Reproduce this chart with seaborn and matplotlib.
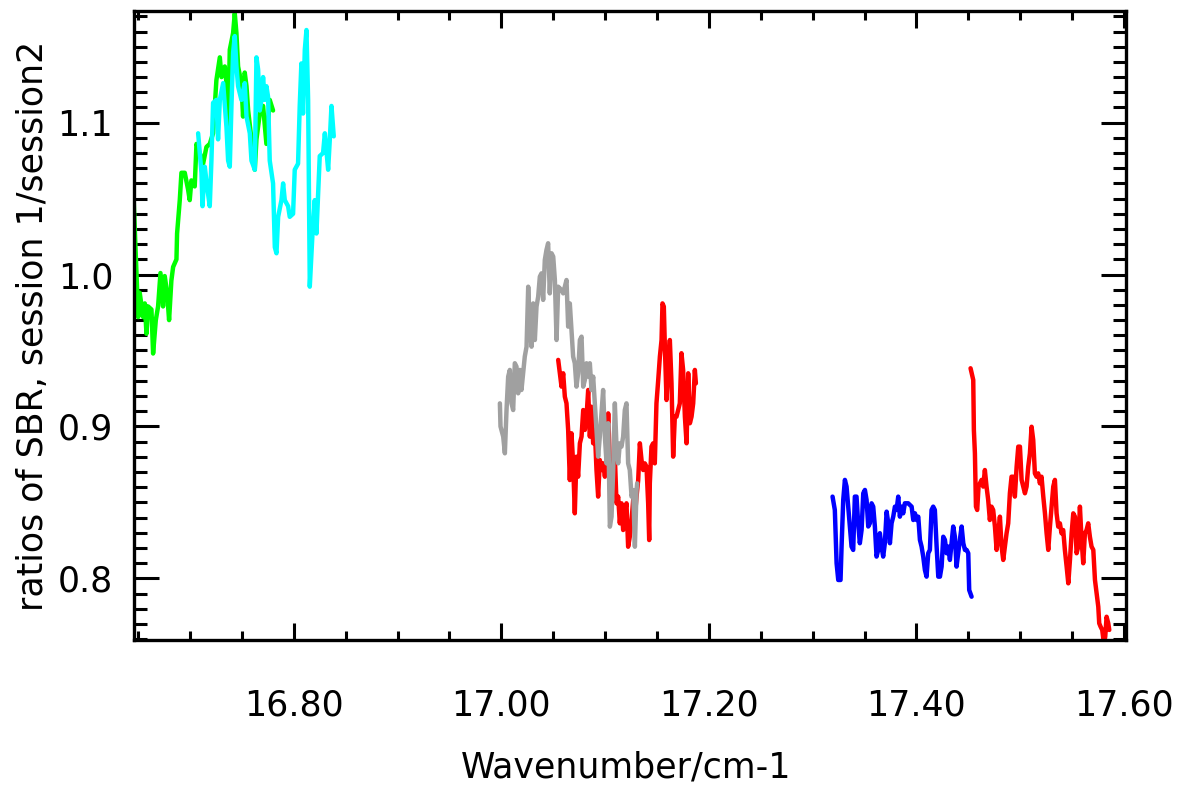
import matplotlib
matplotlib.use("Agg")
import numpy as np
import pandas as pd
import matplotlib.pyplot as plt
from matplotlib.ticker import MultipleLocator, FormatStrFormatter
import seaborn as sns

# ----------------------------------------
# Data
# ----------------------------------------
wn_green = [16.6458, 16.650, 16.6515, 16.6548, 16.6564, 16.658, 16.6596, 16.6628, 16.6644, 16.667,
            16.6692, 16.6715, 16.674, 16.6756, 16.6779, 16.6798, 16.682, 16.6837, 16.6869, 16.6875,
            16.6901, 16.6917, 16.6949, 16.6981, 16.6997, 16.7013, 16.7045, 16.7062, 16.7094, 16.7126,
            16.7158, 16.719, 16.7222, 16.7254, 16.7287, 16.7303, 16.7335, 16.7351, 16.7367, 16.7383,
            16.7415, 16.7431, 16.7447, 16.7463, 16.7495, 16.7511, 16.7527, 16.7544, 16.756, 16.7592,
            16.7624, 16.764, 16.7672, 16.7704, 16.7736, 16.7768, 16.78]
ratio_green = [1.047, 0.972, 0.988, 0.972, 0.981, 0.961, 0.979, 0.977, 0.948, 0.970,
               0.979, 1.001, 0.979, 0.999, 0.988, 0.970, 0.996, 1.005, 1.010, 1.027,
               1.049, 1.067, 1.067, 1.056, 1.049, 1.062, 1.058, 1.086, 1.080, 1.073,
               1.084, 1.086, 1.093, 1.128, 1.143, 1.130, 1.137, 1.126, 1.097, 1.148,
               1.159, 1.172, 1.159, 1.137, 1.126, 1.104, 1.133, 1.124, 1.108, 1.089,
               1.069, 1.089, 1.106, 1.111, 1.086, 1.115, 1.108]

wn_cyan = [16.7078, 16.711, 16.712, 16.7142, 16.7164, 16.719, 16.7206, 16.7222, 16.7254, 16.727,
           16.7287, 16.7319, 16.7351, 16.7367, 16.7383, 16.7399, 16.7415, 16.7431, 16.7447, 16.7463,
           16.7495, 16.7527, 16.7544, 16.7576, 16.7592, 16.7624, 16.764, 16.7656, 16.7672, 16.7688,
           16.7704, 16.772, 16.7736, 16.7752, 16.7768, 16.78, 16.7817, 16.7833, 16.7849, 16.7881,
           16.7897, 16.7913, 16.7945, 16.7961, 16.7993, 16.8009, 16.8041, 16.8057, 16.8073, 16.8089,
           16.8106, 16.8122, 16.8138, 16.8154, 16.818, 16.8202, 16.8218, 16.825, 16.8282, 16.8299,
           16.8331, 16.8347, 16.8363, 16.8385]
ratio_cyan = [1.093, 1.067, 1.045, 1.071, 1.058, 1.045, 1.075, 1.113, 1.115, 1.089,
              1.115, 1.126, 1.097, 1.075, 1.071, 1.111, 1.146, 1.157, 1.137, 1.124,
              1.115, 1.126, 1.104, 1.093, 1.075, 1.069, 1.143, 1.135, 1.108, 1.115,
              1.130, 1.115, 1.124, 1.117, 1.075, 1.060, 1.018, 1.014, 1.038, 1.049,
              1.060, 1.049, 1.045, 1.038, 1.040, 1.069, 1.073, 1.111, 1.139, 1.106,
              1.148, 1.161, 1.115, 0.992, 1.027, 1.049, 1.027, 1.078, 1.080, 1.093,
              1.069, 1.089, 1.111, 1.091]

wn_gray = [16.9986, 16.9992, 17.0018, 17.0034, 17.005, 17.0066, 17.0082, 17.0098, 17.0114, 17.013,
           17.0146, 17.0162, 17.0178, 17.0194, 17.021, 17.0226, 17.0243, 17.0259, 17.0275, 17.0291,
           17.0307, 17.0323, 17.0339, 17.0355, 17.0371, 17.0387, 17.0403, 17.0419, 17.0435, 17.0451,
           17.0467, 17.0484, 17.05, 17.0516, 17.0532, 17.0548, 17.058, 17.0596, 17.0628, 17.0644,
           17.066, 17.0676, 17.0692, 17.0708, 17.0724, 17.074, 17.0757, 17.0773, 17.0789, 17.0805,
           17.0821, 17.0837, 17.0853, 17.0869, 17.0885, 17.0901, 17.0917, 17.0933, 17.0949, 17.0965,
           17.0981, 17.0998, 17.1014, 17.103, 17.1046, 17.1062, 17.1078, 17.1094, 17.111, 17.1126,
           17.1142, 17.1158, 17.1174, 17.119, 17.1206, 17.1222, 17.1238, 17.1255, 17.1271, 17.1287,
           17.1303, 17.1309]
ratio_gray = [0.9152, 0.9000, 0.8933, 0.8823, 0.9108, 0.9328, 0.9372, 0.9152, 0.9108, 0.9416,
              0.9394, 0.9218, 0.9372, 0.9240, 0.9350, 0.9460, 0.9525, 0.9920, 0.9657, 0.9525,
              0.9810, 0.9569, 0.9789, 0.9854, 0.9986, 1.0008, 0.9833, 1.0096, 1.0162, 1.0206,
              0.9876, 1.0140, 1.0118, 0.9964, 0.9569, 0.9920, 0.9898, 0.9876, 0.9964, 0.9657,
              0.9810, 0.9635, 0.9460, 0.9416, 0.9262, 0.9350, 0.9569, 0.9591, 0.9262, 0.9306,
              0.9416, 0.9328, 0.9416, 0.9240, 0.9328, 0.9152, 0.8977, 0.8801, 0.8933, 0.9086,
              0.9240, 0.8933, 0.8757, 0.9021, 0.8340, 0.8406, 0.8713, 0.9152, 0.8867, 0.8757,
              0.8889, 0.8867, 0.8933, 0.9108, 0.9152, 0.8757, 0.8713, 0.8538, 0.8581, 0.8208,
              0.8581, 0.8625]

wn_red1 = [17.0548, 17.0564, 17.058, 17.0596, 17.0612, 17.0628, 17.0644, 17.066, 17.0676, 17.0692,
           17.0708, 17.0724, 17.074, 17.0757, 17.0773, 17.0789, 17.0805, 17.0821, 17.0837, 17.0853,
           17.0869, 17.0885, 17.0901, 17.0917, 17.0933, 17.0949, 17.0965, 17.0981, 17.0998, 17.1014,
           17.103, 17.1046, 17.1062, 17.1078, 17.1094, 17.111, 17.1126, 17.1142, 17.1158, 17.1174,
           17.119, 17.1206, 17.1222, 17.1238, 17.1255, 17.1271, 17.1287, 17.1303, 17.1319, 17.1335,
           17.1351, 17.1367, 17.1383, 17.1399, 17.1415, 17.1425, 17.1431, 17.1447, 17.1463, 17.1479,
           17.1495, 17.1512, 17.1528, 17.1544, 17.1553, 17.1566, 17.1576, 17.1592, 17.1608, 17.1624,
           17.164, 17.1656, 17.1672, 17.1688, 17.1704, 17.172, 17.1736, 17.1752, 17.1769, 17.1785,
           17.1801, 17.1817, 17.1833, 17.1849, 17.1865, 17.1875]
ratio_red1 = [0.9438, 0.9350, 0.9262, 0.9350, 0.9196, 0.9152, 0.8977, 0.8647, 0.8955, 0.8757,
              0.8428, 0.8801, 0.8669, 0.8889, 0.8933, 0.9108, 0.8977, 0.9064, 0.9240, 0.8933,
              0.9130, 0.8889, 0.8977, 0.8713, 0.8538, 0.8779, 0.8713, 0.8757, 0.8669, 0.8779,
              0.9086, 0.8757, 0.8581, 0.8757, 0.8801, 0.8494, 0.8538, 0.8362, 0.8494, 0.8318,
              0.8428, 0.8494, 0.8208, 0.8274, 0.8384, 0.8516, 0.8406, 0.8538, 0.8647, 0.8889,
              0.8779, 0.8713, 0.8757, 0.8735, 0.8494, 0.8252, 0.8625, 0.8867, 0.8889, 0.8757,
              0.9152, 0.9306, 0.9460, 0.9569, 0.9810, 0.9789, 0.9525, 0.9174, 0.9416, 0.9569,
              0.9284, 0.8801, 0.9064, 0.9064, 0.9108, 0.9152, 0.9482, 0.9372, 0.9064, 0.8889,
              0.9350, 0.9021, 0.9064, 0.9152, 0.9372, 0.9284]

wn_blue = [17.3192, 17.3214, 17.3231, 17.3247, 17.3269, 17.3279, 17.3295, 17.3311, 17.3327, 17.3343,
           17.3359, 17.3375, 17.3391, 17.3407, 17.3423, 17.3439, 17.3455, 17.3472, 17.3488, 17.3504,
           17.352, 17.3536, 17.3552, 17.3568, 17.3584, 17.36, 17.3616, 17.3632, 17.3648, 17.3664,
           17.368, 17.3696, 17.3713, 17.3729, 17.3745, 17.3761, 17.3777, 17.3793, 17.3809, 17.3825,
           17.3841, 17.3857, 17.3873, 17.3889, 17.3921, 17.3954, 17.397, 17.3986, 17.4002, 17.4018,
           17.4034, 17.405, 17.4066, 17.4082, 17.4098, 17.4114, 17.413, 17.4146, 17.4162, 17.4178,
           17.4195, 17.4211, 17.4227, 17.4243, 17.4259, 17.4275, 17.4291, 17.4307, 17.4323, 17.4339,
           17.4355, 17.4371, 17.4387, 17.4403, 17.4419, 17.4436, 17.4452, 17.4468, 17.4484, 17.45,
           17.4509, 17.4532]
ratio_blue = [0.8538, 0.8450, 0.8099, 0.7989, 0.7989, 0.8209, 0.8516, 0.8648, 0.8604, 0.8472,
              0.8341, 0.8209, 0.8187, 0.8538, 0.8538, 0.8363, 0.8231, 0.8319, 0.8560, 0.8582,
              0.8516, 0.8341, 0.8363, 0.8494, 0.8472, 0.8341, 0.8143, 0.8187, 0.8297, 0.8209,
              0.8143, 0.8231, 0.8439, 0.8363, 0.8231, 0.8363, 0.8406, 0.8472, 0.8450, 0.8538,
              0.8406, 0.8472, 0.8428, 0.8494, 0.8494, 0.8472, 0.8384, 0.8428, 0.8384, 0.8406,
              0.8253, 0.8209, 0.8143, 0.8055, 0.8011, 0.8165, 0.8187, 0.8450, 0.8472, 0.8450,
              0.8209, 0.8011, 0.8011, 0.8077, 0.8274, 0.8253, 0.8165, 0.8209, 0.8121, 0.8231,
              0.8341, 0.8274, 0.8077, 0.8165, 0.8253, 0.8341, 0.8231, 0.8187, 0.8187, 0.8165,
              0.7923, 0.7879]

wn_red2 = [17.4522, 17.4548, 17.4554, 17.4564, 17.4574, 17.4586, 17.4599, 17.4612, 17.4628, 17.4644,
           17.466, 17.4676, 17.4692, 17.4708, 17.4724, 17.474, 17.4757, 17.4773, 17.4789, 17.4805,
           17.4821, 17.4837, 17.4853, 17.4869, 17.4885, 17.4901, 17.4917, 17.4933, 17.4949, 17.4966,
           17.4982, 17.4998, 17.5014, 17.503, 17.5046, 17.5062, 17.5078, 17.5094, 17.511, 17.5126,
           17.5142, 17.5158, 17.5174, 17.519, 17.5206, 17.5223, 17.5239, 17.5255, 17.5271, 17.5287,
           17.5303, 17.5319, 17.5335, 17.5351, 17.5367, 17.5383, 17.5399, 17.5415, 17.5431, 17.5448,
           17.5464, 17.548, 17.5496, 17.5512, 17.5528, 17.5544, 17.556, 17.5576, 17.5592, 17.5608,
           17.5624, 17.564, 17.5656, 17.5672, 17.5688, 17.5705, 17.5721, 17.5737, 17.5753, 17.5762,
           17.5775, 17.5791, 17.5807, 17.582, 17.5833, 17.5849, 17.5859]
ratio_red2 = [0.9383, 0.9306, 0.8977, 0.8823, 0.8472, 0.8450, 0.8604, 0.8625, 0.8648, 0.8604,
              0.8713, 0.8604, 0.8516, 0.8384, 0.8472, 0.8450, 0.8340, 0.8187, 0.8296, 0.8406,
              0.8209, 0.8121, 0.8209, 0.8296, 0.8362, 0.8560, 0.8669, 0.8669, 0.8538, 0.8735,
              0.8867, 0.8867, 0.8648, 0.8604, 0.8560, 0.8604, 0.8735, 0.8823, 0.8998, 0.8911,
              0.8691, 0.8669, 0.8691, 0.8625, 0.8669, 0.8538, 0.8428, 0.8296, 0.8187, 0.8340,
              0.8472, 0.8604, 0.8648, 0.8428, 0.8340, 0.8362, 0.8296, 0.8318, 0.8187, 0.8077,
              0.7967, 0.8121, 0.8296, 0.8428, 0.8406, 0.8165, 0.8209, 0.8472, 0.8253, 0.8099,
              0.8296, 0.8318, 0.8362, 0.8274, 0.8209, 0.8187, 0.7989, 0.7901, 0.7813, 0.7704,
              0.7682, 0.7660, 0.7572, 0.7616, 0.7747, 0.7704, 0.7660]

# drawing order matters (later ones on top)
series = [
    (wn_green, ratio_green, "#00ff00"),
    (wn_cyan, ratio_cyan, "#00ffff"),
    (wn_red1, ratio_red1, "#ff0000"),
    (wn_gray, ratio_gray, "#a0a0a0"),
    (wn_blue, ratio_blue, "#0000ff"),
    (wn_red2, ratio_red2, "#ff0000"),
]

# ----------------------------------------
# Plot
# ----------------------------------------
sns.set_style("ticks")
plt.rcParams['font.family'] = ['DejaVu Sans']
plt.rcParams['text.color'] = 'black'
plt.rcParams['axes.labelcolor'] = 'black'
plt.rcParams['xtick.color'] = 'black'
plt.rcParams['ytick.color'] = 'black'

fig = plt.figure(figsize=(11.87, 7.87), dpi=100)
ax = fig.add_axes([0.1129, 0.1868, 0.8357, 0.7992])

for wn, ratio, col in series:
    df = pd.DataFrame({'wn': wn, 'ratio': ratio})
    sns.lineplot(data=df, x='wn', y='ratio', color=col, sort=False,
                 estimator=None, linewidth=3.2, ax=ax)

ax.set_xlim(16.646, 17.602)
ax.set_ylim(0.7594, 1.1735)

ax.xaxis.set_major_locator(MultipleLocator(0.2))
ax.xaxis.set_minor_locator(MultipleLocator(0.05))
ax.xaxis.set_major_formatter(FormatStrFormatter('%.2f'))
ax.yaxis.set_major_locator(MultipleLocator(0.1))
ax.yaxis.set_minor_locator(MultipleLocator(0.01))
ax.yaxis.set_major_formatter(FormatStrFormatter('%.1f'))

ax.tick_params(which='both', direction='in', top=True, right=True,
               width=2.2, color='black', labelcolor='black', labelsize=25)
ax.tick_params(axis='x', which='major', length=12, pad=35)
ax.tick_params(axis='x', which='minor', length=6.5)
ax.tick_params(axis='y', which='major', length=18, pad=15)
ax.tick_params(axis='y', which='minor', length=9.5)

for s in ax.spines.values():
    s.set_linewidth(2.4)
    s.set_color('black')

ax.set_xlabel("Wavenumber/cm-1", fontsize=25, color='black')
ax.set_ylabel("ratios of SBR, session 1/session2", fontsize=25, color='black')
ax.xaxis.set_label_coords(0.496, -0.175)
ax.yaxis.set_label_coords(-0.085, 0.5)

fig.savefig("out.png", dpi=100)
